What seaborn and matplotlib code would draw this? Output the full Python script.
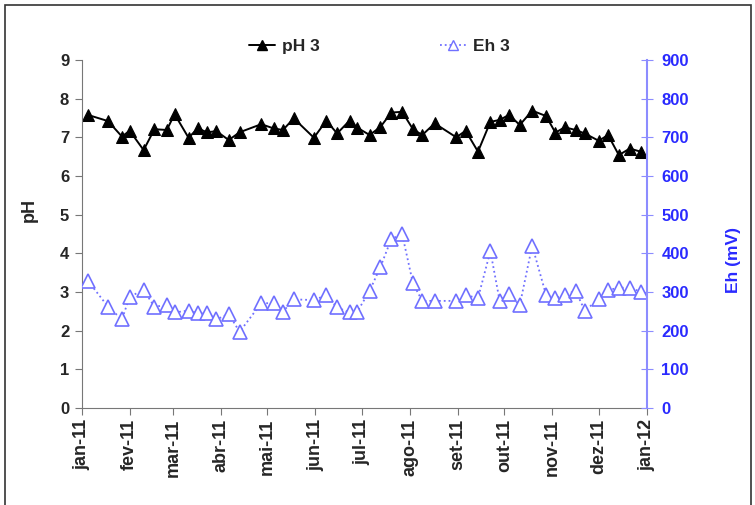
import matplotlib
matplotlib.use("Agg")
import matplotlib.pyplot as plt
from matplotlib.patches import Rectangle
from matplotlib.lines import Line2D
import seaborn as sns
import pandas as pd

dates = ["2011-01-05", "2011-01-18", "2011-01-27", "2011-02-01", "2011-02-10", "2011-02-17",
         "2011-02-25", "2011-03-02", "2011-03-11", "2011-03-17", "2011-03-23", "2011-03-29",
         "2011-04-06", "2011-04-13", "2011-04-27", "2011-05-05", "2011-05-11", "2011-05-18",
         "2011-05-31", "2011-06-08", "2011-06-15", "2011-06-23", "2011-06-28", "2011-07-06",
         "2011-07-13", "2011-07-20", "2011-07-27", "2011-08-03", "2011-08-09", "2011-08-17",
         "2011-08-31", "2011-09-06", "2011-09-14", "2011-09-22", "2011-09-28", "2011-10-04",
         "2011-10-11", "2011-10-19", "2011-10-28", "2011-11-03", "2011-11-09", "2011-11-16",
         "2011-11-22", "2011-12-01", "2011-12-07", "2011-12-14", "2011-12-21", "2011-12-28"]

ph3 = [7.58, 7.42, 7.02, 7.17, 6.67, 7.21, 7.19, 7.60, 6.99, 7.23, 7.13, 7.16,
       6.93, 7.13, 7.34, 7.23, 7.19, 7.49, 6.99, 7.43, 7.10, 7.43, 7.25, 7.06,
       7.27, 7.64, 7.66, 7.21, 7.06, 7.36, 7.00, 7.17, 6.63, 7.40, 7.45, 7.58,
       7.32, 7.69, 7.55, 7.12, 7.26, 7.19, 7.10, 6.91, 7.06, 6.54, 6.71, 6.63]

eh3 = [329, 262, 229, 288, 305, 262, 266, 247, 252, 245, 245, 229,
       243, 197, 271, 271, 249, 281, 279, 292, 260, 247, 249, 303,
       365, 437, 450, 322, 277, 277, 277, 292, 284, 406, 277, 295,
       266, 420, 292, 284, 292, 303, 252, 281, 305, 311, 311, 301]

month_labels = ["jan-11", "fev-11", "mar-11", "abr-11", "mai-11", "jun-11", "jul-11",
                "ago-11", "set-11", "out-11", "nov-11", "dez-11", "jan-12"]
ph_ticks = [0, 1, 2, 3, 4, 5, 6, 7, 8, 9]
eh_ticks = [0, 100, 200, 300, 400, 500, 600, 700, 800, 900]

df = pd.DataFrame({"date": pd.to_datetime(dates), "pH": ph3, "Eh": eh3})

sns.set_style("white")
plt.rcParams["font.family"] = ["Liberation Sans", "DejaVu Sans"]
plt.rcParams["font.weight"] = "bold"

BLUE_LINE = "#7070ff"
BLUE_TXT = "#2a2aff"
BLUE_SPINE = "#8c8cff"

fig = plt.figure(figsize=(7.55, 5.05), dpi=100)
ax = fig.add_axes([0.1082, 0.1921, 0.7484, 0.6891])
ax2 = ax.twinx()

sns.lineplot(data=df, x="date", y="pH", ax=ax, color="black", marker="^",
             markersize=8, markerfacecolor="black", markeredgecolor="black",
             linewidth=1.4, legend=False)
sns.lineplot(data=df, x="date", y="Eh", ax=ax2, color=BLUE_LINE, marker="^",
             markersize=9.5, markerfacecolor="white", markeredgecolor=BLUE_LINE,
             markeredgewidth=1.2, linestyle=":", linewidth=1.3, legend=False)

month_pos = pd.date_range("2011-01-01", "2012-01-01", freq="MS")
ax.set_xlim(month_pos[0], month_pos[-1])
ax.set_xticks(month_pos)
ax.set_xticklabels(month_labels, rotation=90, fontsize=13, fontweight="bold")

ax.set_ylim(0, 9)
ax.set_yticks(ph_ticks)
ax.set_yticklabels([str(t) for t in ph_ticks], fontsize=12, fontweight="bold")
ax2.set_ylim(0, 900)
ax2.set_yticks(eh_ticks)
ax2.set_yticklabels([str(t) for t in eh_ticks], fontsize=12, fontweight="bold", color=BLUE_TXT)

ax.set_xlabel("")
ax.set_ylabel("pH", fontsize=13, fontweight="bold")
ax.yaxis.set_label_coords(-0.077, 0.569)
ax2.set_ylabel("Eh (mV)", fontsize=12.5, fontweight="bold", color=BLUE_TXT)
ax2.yaxis.set_label_coords(1.140, 0.425)

for a in (ax, ax2):
    a.spines["top"].set_visible(False)
    a.grid(False)
ax.spines["right"].set_visible(False)
ax2.spines["left"].set_visible(False)
ax2.spines["bottom"].set_visible(False)
ax.spines["left"].set_color("#777777")
ax.spines["bottom"].set_color("#777777")
ax2.spines["right"].set_color(BLUE_SPINE)
ax2.spines["right"].set_linewidth(1.5)

ax.tick_params(axis="y", direction="out", length=5, color="#777777", pad=4, left=True)
ax.tick_params(axis="x", direction="out", length=5, color="#777777", pad=3, bottom=True)
ax2.tick_params(axis="y", direction="inout", length=9, color=BLUE_SPINE, pad=6, right=True)

handles = [
    Line2D([], [], color="black", marker="^", markersize=7, markerfacecolor="black", linewidth=1.4),
    Line2D([], [], color=BLUE_LINE, marker="^", markersize=7, markerfacecolor="white",
           markeredgecolor=BLUE_LINE, linestyle=":", linewidth=1.3),
]
leg = ax.legend(handles, ["pH 3", "Eh 3"], loc="center", bbox_to_anchor=(0.527, 1.04),
                ncol=2, frameon=False, fontsize=12.5, handlelength=1.5, handletextpad=0.4,
                columnspacing=6.9, borderaxespad=0)
for t in leg.get_texts():
    t.set_fontweight("bold")

fig.patches.append(Rectangle((0.006, -0.01), 0.989, 1.0, transform=fig.transFigure,
                             fill=False, edgecolor="#333333", linewidth=1.2))

fig.savefig("out.png", dpi=100)
